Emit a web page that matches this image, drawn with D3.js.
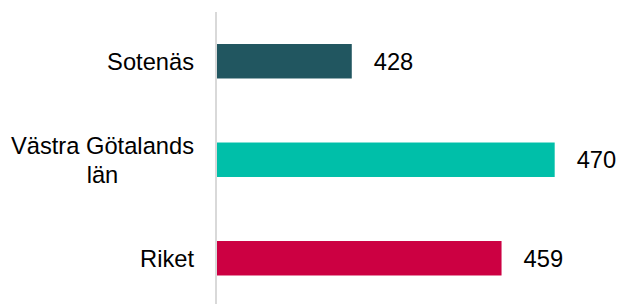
<!DOCTYPE html>
<html>
<head>
<meta charset="utf-8">
<script src="https://cdn.jsdelivr.net/npm/d3@7/dist/d3.min.js"></script>
<style>
  html, body { margin: 0; padding: 0; background: #ffffff; }
  svg { display: block; }
  text { font-family: "Liberation Sans", Arial, sans-serif; fill: #000; }
</style>
</head>
<body>
<svg id="chart" width="618" height="304"></svg>
<script>
const categories = [["Sotenäs"], ["Västra Götalands", "län"], ["Riket"]];
const values = [428, 470, 459];
const barColors = ["#215660", "#00BFA9", "#CC0042"];
const xDomain = [400, 480];

const W = 618, H = 304;
const fontSize = 23.7;
const lineHeight = 29;

const svg = d3.select("#chart");

const x = d3.scaleLinear().domain(xDomain).range([216.5, 603]);
const y = d3.scaleBand()
  .domain(d3.range(categories.length))
  .range([12, 307.5])
  .paddingInner(0.65)
  .paddingOuter(0.325);

// bars
svg.append("g").selectAll("rect")
  .data(values)
  .join("rect")
  .attr("x", x(xDomain[0]))
  .attr("y", (d, i) => y(i))
  .attr("width", d => x(d) - x(xDomain[0]))
  .attr("height", y.bandwidth())
  .attr("fill", (d, i) => barColors[i]);

// vertical category axis line
svg.append("line")
  .attr("x1", 216).attr("x2", 216)
  .attr("y1", y.range()[0]).attr("y2", y.range()[1])
  .attr("stroke", "#d9d9d9")
  .attr("stroke-width", 2);

// category labels
const labelRight = 194;
categories.forEach((lines, i) => {
  const cy = y(i) + y.bandwidth() / 2;
  const g = svg.append("g");
  const n = lines.length;
  const texts = lines.map((ln, k) =>
    g.append("text")
      .attr("font-size", fontSize)
      .attr("x", labelRight)
      .attr("text-anchor", "end")
      .attr("y", cy + (k - (n - 1) / 2) * lineHeight)
      .attr("dy", "0.35em")
      .text(ln)
  );
  if (n > 1) {
    const boxes = texts.map(t => t.node().getBBox());
    const widest = d3.greatest(boxes, b => b.width);
    const center = widest.x + widest.width / 2;
    texts.forEach(t => t.attr("x", center).attr("text-anchor", "middle"));
  }
});

// value labels
svg.append("g").selectAll("text")
  .data(values)
  .join("text")
  .attr("font-size", fontSize)
  .attr("x", d => x(d) + 22)
  .attr("y", (d, i) => y(i) + y.bandwidth() / 2)
  .attr("dy", "0.35em")
  .text(d => d);
</script>
</body>
</html>
